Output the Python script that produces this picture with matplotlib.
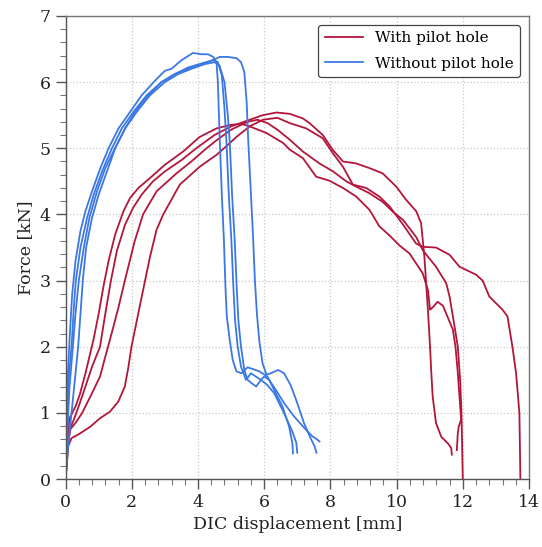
import matplotlib
matplotlib.use("Agg")
import matplotlib.pyplot as plt
from matplotlib.ticker import MultipleLocator

# with pilot hole (red)
r1_x = [0, 0.05, 0.12, 0.2, 0.3, 0.43, 0.6, 0.84, 1.0, 1.14, 1.3, 1.5, 1.75, 1.95, 2.2, 2.55, 3.0, 3.55,
        4.05, 4.56, 4.96, 5.3, 5.56, 6.07, 6.57, 6.77, 7.17, 7.57, 7.97, 8.38, 8.78, 9.18, 9.48, 9.79,
        10.09, 10.39, 10.79, 10.95, 11.01, 11.1, 11.24, 11.4, 11.5, 11.7, 11.78, 11.85, 11.9, 11.95,
        11.88, 11.85, 11.82]
r1_y = [0, 0.6, 0.92, 1.0, 1.1, 1.28, 1.6, 2.1, 2.5, 2.9, 3.3, 3.7, 4.05, 4.25, 4.4, 4.55, 4.75, 4.95,
        5.17, 5.30, 5.35, 5.37, 5.33, 5.23, 5.08, 4.98, 4.85, 4.57, 4.51, 4.40, 4.27, 4.07, 3.82, 3.68,
        3.53, 3.41, 3.11, 2.85, 2.56, 2.6, 2.68, 2.62, 2.5, 2.26, 2.0, 1.6, 1.25, 0.9,
        0.8, 0.7, 0.44]

r2_x = [0, 0.06, 0.13, 0.25, 0.43, 0.6, 0.8, 1.04, 1.2, 1.37, 1.55, 1.8, 2.04, 2.3, 2.64, 3.0, 3.5, 3.95,
        4.5, 5.0, 5.56, 5.96, 6.37, 6.77, 7.17, 7.37, 7.77, 8.08, 8.38, 8.78, 9.18, 9.58, 9.99, 10.29,
        10.59, 10.74, 10.84, 10.94, 11.0, 11.05, 11.09, 11.19, 11.35, 11.55, 11.65, 11.67]
r2_y = [0, 0.5, 0.76, 0.9, 1.15, 1.4, 1.7, 2.0, 2.5, 3.0, 3.45, 3.85, 4.1, 4.3, 4.5, 4.65, 4.82, 5.0,
        5.2, 5.33, 5.43, 5.50, 5.54, 5.52, 5.45, 5.38, 5.20, 4.97, 4.80, 4.77, 4.70, 4.62, 4.42, 4.22,
        4.05, 3.87, 3.36, 2.61, 2.1, 1.6, 1.25, 0.85, 0.64, 0.54, 0.47, 0.37]

r3_x = [0, 0.07, 0.15, 0.3, 0.5, 0.75, 1.04, 1.2, 1.39, 1.6, 1.79, 2.09, 2.34, 2.75, 3.35, 3.8, 4.26,
        4.56, 5.0, 5.5, 5.8, 6.1, 6.4, 6.77, 7.17, 7.67, 8.08, 8.48, 8.78, 9.18, 9.58, 9.89, 10.19,
        10.59, 10.79, 11.19, 11.5, 11.6, 11.75, 11.85, 11.92, 11.96, 11.98, 12.0]
r3_y = [0, 0.55, 0.76, 0.85, 1.0, 1.25, 1.55, 1.85, 2.2, 2.6, 3.0, 3.6, 4.0, 4.35, 4.62, 4.8, 5.0,
        5.12, 5.28, 5.4, 5.43, 5.38, 5.28, 5.13, 4.95, 4.77, 4.65, 4.50, 4.42, 4.32, 4.19, 4.04, 3.92,
        3.66, 3.46, 3.21, 2.96, 2.76, 2.31, 2.0, 1.5, 1.0, 0.5, 0]

r4_x = [0, 0.08, 0.18, 0.4, 0.74, 1.04, 1.34, 1.59, 1.79, 1.9, 1.99, 2.24, 2.55, 2.75, 2.95, 3.45, 4.05,
        4.56, 4.9, 5.16, 5.56, 5.96, 6.4, 6.77, 7.27, 7.77, 8.08, 8.38, 8.68, 9.08, 9.48, 9.79, 10.19,
        10.59, 10.79, 11.19, 11.6, 11.9, 12.4, 12.6, 12.8, 13.2, 13.35, 13.5, 13.61, 13.71, 13.74]
r4_y = [0, 0.5, 0.62, 0.68, 0.79, 0.92, 1.02, 1.17, 1.40, 1.7, 2.0, 2.61, 3.36, 3.77, 4.0, 4.45, 4.72,
        4.90, 5.05, 5.17, 5.33, 5.43, 5.46, 5.38, 5.30, 5.15, 4.92, 4.72, 4.45, 4.40, 4.27, 4.12, 3.85,
        3.56, 3.51, 3.50, 3.39, 3.21, 3.09, 3.0, 2.76, 2.56, 2.46, 2.0, 1.6, 1.0, 0]

# without pilot hole (blue)
b1_x = [0, 0.03, 0.07, 0.13, 0.2, 0.3, 0.45, 0.6, 0.8, 1.05, 1.3, 1.6, 1.95, 2.3, 2.7, 3.0, 3.2, 3.5,
        3.85, 4.1, 4.3, 4.46, 4.56, 4.6, 4.66, 4.72, 4.78, 4.83, 4.87, 4.96, 5.05, 5.16, 5.31, 5.5,
        5.85, 6.1, 6.3, 6.55, 6.75, 6.85, 6.87]
b1_y = [0, 0.8, 1.6, 2.2, 2.8, 3.3, 3.75, 4.05, 4.35, 4.7, 5.0, 5.3, 5.55, 5.8, 6.02, 6.17, 6.2, 6.33,
        6.44, 6.42, 6.42, 6.38, 6.3, 6.0, 5.1, 4.3, 3.65, 2.9, 2.46, 2.1, 1.8, 1.63, 1.60, 1.69,
        1.63, 1.55, 1.35, 1.1, 0.8, 0.55, 0.39]

b2_x = [0, 0.04, 0.09, 0.18, 0.25, 0.31, 0.45, 0.65, 0.85, 1.1, 1.4, 1.7, 2.05, 2.45, 2.9, 3.3, 3.7,
        4.1, 4.45, 4.6, 4.72, 4.8, 4.86, 4.93, 5.01, 5.07, 5.12, 5.2, 5.3, 5.45, 5.6, 5.75, 5.9, 6.1,
        6.3, 6.6, 6.85, 6.97, 7.0]
b2_y = [0, 0.8, 1.5, 2.0, 2.6, 3.0, 3.5, 3.95, 4.3, 4.65, 5.0, 5.3, 5.55, 5.8, 6.0, 6.12, 6.22,
        6.28, 6.33, 6.3, 6.1, 5.6, 5.1, 4.3, 3.6, 2.9, 2.4, 2.0, 1.7, 1.5, 1.6, 1.55, 1.5, 1.42,
        1.3, 1.0, 0.72, 0.55, 0.4]

b3_x = [0, 0.05, 0.12, 0.22, 0.3, 0.4, 0.55, 0.72, 0.95, 1.2, 1.49, 1.8, 2.15, 2.55, 3.0, 3.4, 3.8,
        4.2, 4.5, 4.65, 4.8, 4.9, 4.96, 5.03, 5.11, 5.17, 5.22, 5.3, 5.4, 5.5, 5.62, 5.76, 5.9, 6.0,
        6.15, 6.35, 6.6, 6.9, 7.2, 7.45, 7.6, 7.67]
b3_y = [0, 0.7, 1.4, 2.0, 2.5, 3.0, 3.5, 3.95, 4.35, 4.7, 5.0, 5.3, 5.55, 5.8, 6.0, 6.12, 6.2,
        6.27, 6.3, 6.25, 6.0, 5.5, 5.1, 4.3, 3.6, 2.9, 2.4, 2.0, 1.65, 1.5, 1.45, 1.4, 1.5, 1.55,
        1.5, 1.35, 1.15, 0.95, 0.78, 0.65, 0.6, 0.57]

b4_x = [0, 0.08, 0.18, 0.28, 0.38, 0.45, 0.52, 0.62, 0.8, 1.0, 1.25, 1.5, 1.8, 2.1, 2.5, 2.9, 3.3,
        3.7, 4.1, 4.4, 4.66, 4.9, 5.17, 5.3, 5.4, 5.47, 5.52, 5.6, 5.66, 5.72, 5.78, 5.85, 5.95, 6.07,
        6.2, 6.42, 6.6, 6.8, 7.0, 7.2, 7.4, 7.52, 7.58]
b4_y = [0, 0.5, 1.0, 1.5, 2.0, 2.5, 3.0, 3.5, 3.95, 4.3, 4.65, 5.0, 5.3, 5.55, 5.8, 6.0, 6.12,
        6.2, 6.27, 6.32, 6.38, 6.38, 6.36, 6.3, 6.15, 5.7, 5.1, 4.3, 3.7, 3.0, 2.5, 2.1, 1.75, 1.58,
        1.6, 1.65, 1.6, 1.42, 1.15, 0.85, 0.62, 0.5, 0.4]

red = "#b3163a"
blue = "#3c78e4"
lw = 1.3

plt.rcParams["font.family"] = ["DejaVu Serif"]
fig = plt.figure(figsize=(5.42, 5.47), dpi=100)
ax = fig.add_axes([0.121, 0.124, 0.855, 0.847])

for i, (x, y) in enumerate([(r1_x, r1_y), (r2_x, r2_y), (r3_x, r3_y), (r4_x, r4_y)]):
    ax.plot(x, y, color=red, lw=lw, label="With pilot hole" if i == 0 else None)
for i, (x, y) in enumerate([(b1_x, b1_y), (b2_x, b2_y), (b3_x, b3_y), (b4_x, b4_y)]):
    ax.plot(x, y, color=blue, lw=lw, label="Without pilot hole" if i == 0 else None)

ax.set_xlim(0, 14)
ax.set_ylim(0, 7)
ax.xaxis.set_major_locator(MultipleLocator(2))
ax.xaxis.set_minor_locator(MultipleLocator(0.4))
ax.yaxis.set_major_locator(MultipleLocator(1))
ax.yaxis.set_minor_locator(MultipleLocator(0.2))
ax.grid(True, which="major", color="#c8c8c8", linestyle=":", linewidth=0.9)
ax.tick_params(which="major", length=7, width=1, color="#555555", labelsize=12.5, labelcolor="#222222")
ax.tick_params(which="minor", length=4, width=0.8, color="#777777")
for s in ax.spines.values():
    s.set_color("#777777")
    s.set_linewidth(1.0)
ax.spines["left"].set_color("#555555")
ax.spines["bottom"].set_color("#555555")

ax.set_xlabel("DIC displacement [mm]", fontsize=12.5, color="#222222")
ax.set_ylabel("Force [kN]", fontsize=12.5, color="#222222")

leg = ax.legend(loc="upper right", fontsize=11, frameon=True, fancybox=True,
                edgecolor="#444444", framealpha=1, handlelength=2.5, borderaxespad=0.6,
                labelspacing=0.75)
leg.get_frame().set_linewidth(0.9)

fig.savefig("out.png", dpi=100)
